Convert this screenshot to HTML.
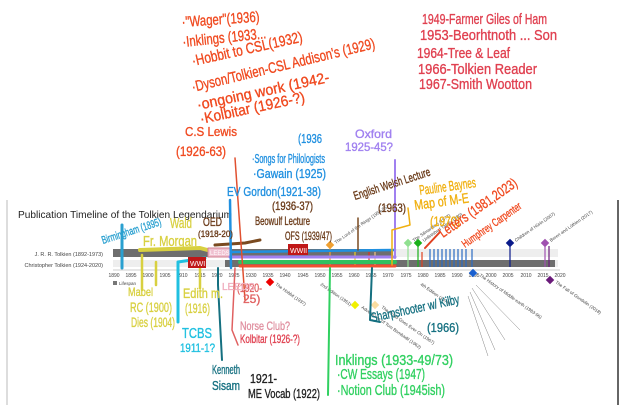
<!DOCTYPE html>
<html><head><meta charset="utf-8"><style>
html,body{margin:0;padding:0;background:#fff;}
svg{display:block;}
text{font-family:"Liberation Sans",sans-serif;}
.h text,text.h{font-family:"Liberation Sans Narrow","Liberation Sans",sans-serif;stroke-width:0.35;}
</style></head><body>
<svg width="624" height="405" viewBox="0 0 624 405" xmlns="http://www.w3.org/2000/svg">
<rect width="624" height="405" fill="#fff"/>
<line x1="7" y1="200" x2="7" y2="405" stroke="#bbb" stroke-width="1"/>
<line x1="618" y1="200" x2="618" y2="405" stroke="#333" stroke-width="1.5"/>
<text x="18" y="218" font-size="10.5" fill="#222" textLength="214" lengthAdjust="spacingAndGlyphs">Publication Timeline of the Tolkien Legendarium</text>
<text x="103" y="256" font-size="5.5" fill="#444" text-anchor="end">J. R. R. Tolkien (1892-1973)</text>
<text x="103" y="267" font-size="5.5" fill="#444" text-anchor="end">Christopher Tolkien (1924-2020)</text>
<rect x="113" y="249" width="445" height="8" fill="#eee"/>
<rect x="113" y="249" width="280" height="8" fill="#6e6e6e"/>
<rect x="113" y="260" width="445" height="7" fill="#eee"/>
<rect x="225" y="260" width="330" height="7" fill="#6e6e6e"/>
<line x1="113" y1="270" x2="560" y2="270" stroke="#999" stroke-width="0.6"/>
<g font-size="5" fill="#444" text-anchor="middle">
<text x="114" y="277">1890</text><text x="131" y="277">1895</text><text x="148" y="277">1900</text><text x="165" y="277">1905</text><text x="182" y="277">1910</text><text x="200" y="277">1915</text><text x="217" y="277">1920</text><text x="234" y="277">1925</text><text x="251" y="277">1930</text><text x="268" y="277">1935</text><text x="285" y="277">1940</text><text x="303" y="277">1945</text><text x="320" y="277">1950</text><text x="337" y="277">1955</text><text x="354" y="277">1960</text><text x="371" y="277">1965</text><text x="388" y="277">1970</text><text x="406" y="277">1975</text><text x="423" y="277">1980</text><text x="440" y="277">1985</text><text x="457" y="277">1990</text><text x="474" y="277">1995</text><text x="491" y="277">2000</text><text x="508" y="277">2005</text><text x="526" y="277">2010</text><text x="543" y="277">2015</text><text x="560" y="277">2020</text>
</g>
<rect x="113" y="281" width="4" height="4" fill="#777"/><text x="119" y="285" font-size="4.5" fill="#444">Lifespan</text>
<g stroke-width="1.2">
<line x1="430" y1="249" x2="430" y2="267" stroke="#2a6bc4"/><line x1="434" y1="249" x2="434" y2="267" stroke="#2a6bc4"/><line x1="438" y1="249" x2="438" y2="267" stroke="#2a6bc4"/><line x1="442" y1="249" x2="442" y2="267" stroke="#2a6bc4"/><line x1="446" y1="249" x2="446" y2="267" stroke="#2a6bc4"/><line x1="450" y1="249" x2="450" y2="267" stroke="#2a6bc4"/><line x1="454" y1="249" x2="454" y2="267" stroke="#2a6bc4"/><line x1="458" y1="249" x2="458" y2="267" stroke="#2a6bc4"/><line x1="462" y1="249" x2="462" y2="267" stroke="#2a6bc4"/><line x1="466" y1="249" x2="466" y2="267" stroke="#2a6bc4"/><line x1="472" y1="249" x2="472" y2="267" stroke="#2a6bc4"/>
<line x1="510" y1="246" x2="510" y2="267" stroke="#0a1a8a"/>
<line x1="545" y1="246" x2="545" y2="267" stroke="#a050b0"/><line x1="549" y1="246" x2="549" y2="267" stroke="#6a1a7a"/>
<line x1="408" y1="246" x2="408" y2="267" stroke="#90e090"/><line x1="418" y1="246" x2="418" y2="267" stroke="#1ab01a"/><line x1="422" y1="252" x2="422" y2="267" stroke="#e04020"/>
<line x1="330" y1="246" x2="330" y2="267" stroke="#f0a030"/><line x1="355" y1="252" x2="355" y2="267" stroke="#e8d020"/><line x1="369" y1="252" x2="369" y2="267" stroke="#e03020"/><line x1="375" y1="252" x2="375" y2="267" stroke="#f0c080"/>
</g>
<g>
<rect x="267" y="279" width="6" height="6" fill="#e00" transform="rotate(45 270 282)"/>
<rect x="327" y="242" width="6" height="6" fill="#f0a030" transform="rotate(45 330 245)"/>
<rect x="352" y="302" width="6" height="6" fill="#f0f000" transform="rotate(45 355 305)"/>
<rect x="372" y="302" width="6" height="6" fill="#fadca0" transform="rotate(45 375 305)"/>
<rect x="405" y="240" width="6" height="6" fill="#90e090" transform="rotate(45 408 243)"/>
<rect x="415" y="240" width="6" height="6" fill="#1ab01a" transform="rotate(45 418 243)"/>
<rect x="470" y="270" width="6" height="6" fill="#1a60d0" transform="rotate(45 473 273)"/>
<rect x="507" y="240" width="6" height="6" fill="#0a1a8a" transform="rotate(45 510 243)"/>
<rect x="542" y="240" width="6" height="6" fill="#a050b0" transform="rotate(45 545 243)"/>
<rect x="547" y="277" width="6" height="6" fill="#6a1a7a" transform="rotate(45 550 280)"/>
</g>
<g font-size="4.5" fill="#444">
<text transform="translate(275,285) rotate(35)">The Hobbit (1937)</text>
<text transform="translate(336,244) rotate(-35)">The Lord of the Rings (1954-55)</text>
<text transform="translate(414,242) rotate(-35)">The Silmarillion (1977)</text>
<text transform="translate(424,242) rotate(-35)">Unfinished Tales (1980)</text>
<text transform="translate(516,242) rotate(-35)">Children of Húrin (2007)</text>
<text transform="translate(551,242) rotate(-35)">Beren and Lúthien (2017)</text>
<text transform="translate(555,283) rotate(35)">The Fall of Gondolin (2018)</text>
<text transform="translate(479,276) rotate(35)">The History of Middle-earth (1983-96)</text>
<text transform="translate(320,285) rotate(35)">2nd Edition (1951)</text>
<text transform="translate(420,285) rotate(35)">4th Edition (1978)</text>
<text transform="translate(361,308) rotate(35)">Adventures of Tom Bombadil (1962)</text>
<text transform="translate(381,308) rotate(35)">The Road Goes Ever On (1967)</text>
</g>
<g stroke="#666" stroke-width="0.4">
<line x1="476" y1="285" x2="520" y2="330"/><line x1="472" y1="288" x2="505" y2="340"/><line x1="470" y1="292" x2="495" y2="350"/><line x1="468" y1="296" x2="488" y2="356"/>
</g>
<g fill="none" stroke-linecap="round" stroke-linejoin="round">
<path d="M122 225 L122 268" stroke="#2aa0d0" stroke-width="3"/>
<path d="M140 250 L200 248 L215 252" stroke="#d8d040" stroke-width="4"/>
<path d="M142 255 L142 290 M156 262 L156 285 M200 262 L200 288" stroke="#d8d040" stroke-width="2.5"/>
<path d="M178 262 L178 322 M178 262 L205 258" stroke="#20c0e0" stroke-width="3"/>
<path d="M215 245 L245 243 L260 240" stroke="#7a4a20" stroke-width="3"/>
<rect x="208" y="248" width="22" height="9" fill="#f0c0d0" stroke="#d08090"/>
<text x="210" y="255" font-size="6" fill="#fff" stroke="none">LEEDS</text>
<rect x="188" y="257" width="18" height="11" fill="#c01818" stroke="none"/>
<text x="190" y="266" font-size="7" fill="#fff" stroke="none">WWI</text>
<path d="M230 257 L395 257" stroke="#a080f0" stroke-width="3"/>
<path d="M240 262 L395 262" stroke="#30c060" stroke-width="4"/>
<path d="M240 266 L395 266" stroke="#f05030" stroke-width="3"/>
<path d="M232 252 L310 251 L395 250" stroke="#2090e0" stroke-width="2.5"/>
<path d="M218 268 L218 285 L222 360" stroke="#157080" stroke-width="2"/>
<path d="M230 200 L231 268" stroke="#2090e0" stroke-width="2.5"/>
<path d="M235 158 L245 300" stroke="#e05030" stroke-width="1.5"/>
<path d="M235 268 L232 330 L238 345" stroke="#e06060" stroke-width="1.5"/>
<path d="M395 160 L395 258" stroke="#a080f0" stroke-width="2"/>
<path d="M358 218 L358 250" stroke="#7a4a20" stroke-width="1.5"/>
<path d="M392 265 L392 230 L410 225 L408 208" stroke="#f0b010" stroke-width="1.5"/>
<path d="M330 268 L328 395" stroke="#30d060" stroke-width="2"/>
<path d="M372 268 L370 320 L380 322" stroke="#157080" stroke-width="2"/>
<path d="M440 232 L425 248" stroke="#e04020" stroke-width="2"/>
<rect x="288" y="244" width="20" height="11" fill="#c01818" stroke="none"/>
<text x="290" y="253" font-size="7" fill="#fff" stroke="none">WWII</text>
</g>
<g class="h" font-size="15" fill="#f04a20" stroke="#f04a20" lengthAdjust="spacingAndGlyphs">
<text x="182" y="27" textLength="78" transform="rotate(-4 182 27)" lengthAdjust="spacingAndGlyphs">·"Wager"(1936)</text>
<text x="183" y="47" textLength="84" transform="rotate(-6 183 47)" lengthAdjust="spacingAndGlyphs">·Inklings (1933...</text>
<text x="193" y="66" textLength="113" transform="rotate(-12.5 193 66)" lengthAdjust="spacingAndGlyphs">·Hobbit to CSL(1932)</text>
<text x="193" y="92" textLength="188" transform="rotate(-13.5 193 92)" lengthAdjust="spacingAndGlyphs">·Dyson/Tolkien-CSL Addison's (1929)</text>
<text x="198" y="110" textLength="135" transform="rotate(-12 198 110)" lengthAdjust="spacingAndGlyphs">·ongoing work (1942-</text>
<text x="201" y="124" textLength="107" transform="rotate(-12 201 124)" lengthAdjust="spacingAndGlyphs">·Kolbitar (1926-?)</text>
<text x="185" y="136" font-size="13" textLength="52" lengthAdjust="spacingAndGlyphs">C.S Lewis</text>
<text x="176" y="156" font-size="14" textLength="50" lengthAdjust="spacingAndGlyphs">(1926-63)</text>
</g>
<g class="h" font-size="15" fill="#e04050" stroke="#e04050">
<text x="422" y="24" textLength="125" lengthAdjust="spacingAndGlyphs">1949-Farmer Giles of Ham</text>
<text x="420" y="40" textLength="137" lengthAdjust="spacingAndGlyphs">1953-Beorhtnoth ... Son</text>
<text x="417" y="58" textLength="93" lengthAdjust="spacingAndGlyphs">1964-Tree &amp; Leaf</text>
<text x="418" y="74" textLength="119" lengthAdjust="spacingAndGlyphs">1966-Tolkien Reader</text>
<text x="419" y="89" textLength="113" lengthAdjust="spacingAndGlyphs">1967-Smith Wootton</text>
</g>
<g class="h" font-size="13" fill="#2090e0" stroke="#2090e0">
<text x="298" y="143" textLength="24" lengthAdjust="spacingAndGlyphs">(1936</text>
<text x="252" y="163" textLength="73" lengthAdjust="spacingAndGlyphs">·Songs for Philologists</text>
<text x="253" y="178" textLength="73" lengthAdjust="spacingAndGlyphs">·Gawain (1925)</text>
<text x="227" y="196" textLength="94" lengthAdjust="spacingAndGlyphs">EV Gordon(1921-38)</text>
<text x="103" y="244" font-size="11" textLength="62" lengthAdjust="spacingAndGlyphs" transform="rotate(-18 103 244)" fill="#2aa0d0" stroke="#2aa0d0">Birmingham (1895)</text>
</g>
<g class="h" font-size="12" fill="#a080f0" stroke="#a080f0"><text x="355" y="138" textLength="37" lengthAdjust="spacingAndGlyphs">Oxford</text><text x="345" y="151" textLength="48" lengthAdjust="spacingAndGlyphs">1925-45?</text></g>
<g class="h" font-size="12" fill="#6a3a18" stroke="#6a3a18">
<text x="355" y="200" textLength="80" lengthAdjust="spacingAndGlyphs" transform="rotate(-18 355 200)">English Welsh Lecture</text>
<text x="378" y="212" textLength="28" lengthAdjust="spacingAndGlyphs">(1963)</text>
<text x="272" y="210" textLength="41" lengthAdjust="spacingAndGlyphs">(1936-37)</text>
<text x="255" y="225" textLength="55" lengthAdjust="spacingAndGlyphs">Beowulf Lecture</text>
<text x="285" y="240" textLength="47" lengthAdjust="spacingAndGlyphs">OFS (1939/47)</text>
<text x="203" y="226" textLength="19" lengthAdjust="spacingAndGlyphs">OED</text>
<text x="198" y="237" font-size="9" textLength="35" lengthAdjust="spacingAndGlyphs">(1918-20)</text>
</g>
<g class="h" font-size="15" fill="#d8d040" stroke="#d8d040">
<text x="170" y="228" textLength="22" lengthAdjust="spacingAndGlyphs">Wald</text>
<text x="143" y="246" textLength="54" lengthAdjust="spacingAndGlyphs">Fr. Morgan</text>
<text x="128" y="296" font-size="12" textLength="25" lengthAdjust="spacingAndGlyphs">Mabel</text>
<text x="130" y="312" font-size="14" textLength="42" lengthAdjust="spacingAndGlyphs">RC (1900)</text>
<text x="131" y="327" font-size="14" textLength="44" lengthAdjust="spacingAndGlyphs">Dies (1904)</text>
<text x="183" y="298" font-size="14" textLength="40" lengthAdjust="spacingAndGlyphs">Edith m.</text>
<text x="185" y="313" font-size="14" textLength="25" lengthAdjust="spacingAndGlyphs">(1916)</text>
</g>
<g class="h" font-size="14" fill="#f0b010" stroke="#f0b010">
<text x="420" y="195" textLength="57" lengthAdjust="spacingAndGlyphs" transform="rotate(-8 420 195)">Pauline Baynes</text>
<text x="415" y="210" textLength="55" lengthAdjust="spacingAndGlyphs" transform="rotate(-8 415 210)">Map of M-E</text>
<text x="430" y="226" textLength="30" lengthAdjust="spacingAndGlyphs">(1970)</text>
</g>
<g class="h" font-size="14" fill="#f04a20" stroke="#f04a20">
<text x="443" y="238" textLength="92" lengthAdjust="spacingAndGlyphs" transform="rotate(-35 443 238)">Letters (1981,2023)</text>
<text x="465" y="248" font-size="11" textLength="70" lengthAdjust="spacingAndGlyphs" transform="rotate(-35 465 248)">Humphrey Carpenter</text>
</g>
<g class="h" font-size="15" fill="#20c0e0" stroke="#20c0e0"><text x="182" y="338" textLength="30" lengthAdjust="spacingAndGlyphs">TCBS</text><text x="180" y="352" font-size="12" textLength="35" lengthAdjust="spacingAndGlyphs">1911-1?</text></g>
<g class="h" font-size="13" fill="#157080" stroke="#157080">
<text x="212" y="374" textLength="28" lengthAdjust="spacingAndGlyphs">Kenneth</text><text x="212" y="390" textLength="28" lengthAdjust="spacingAndGlyphs">Sisam</text>
<text x="372" y="322" textLength="90" lengthAdjust="spacingAndGlyphs" transform="rotate(-12 372 322)">Sharpshooter w/ Kilby</text>
<text x="427" y="332" textLength="32" lengthAdjust="spacingAndGlyphs">(1966)</text>
</g>
<g class="h" font-size="13" fill="#222" stroke="#222"><text x="250" y="383" textLength="27" lengthAdjust="spacingAndGlyphs">1921-</text><text x="248" y="398" textLength="72" lengthAdjust="spacingAndGlyphs">ME Vocab (1922)</text></g>
<g class="h" font-size="12" fill="#e06060" stroke="#e06060">
<text x="237" y="292" textLength="25" lengthAdjust="spacingAndGlyphs">(1920-</text><text x="243" y="303">25)</text>
<text x="240" y="330" fill="#e090a0" stroke="#e090a0" textLength="50" lengthAdjust="spacingAndGlyphs">Norse Club?</text>
<text x="240" y="343" fill="#e04050" stroke="#e04050" textLength="60" lengthAdjust="spacingAndGlyphs">Kolbitar (1926-?)</text>
<text x="222" y="290" fill="#f0b0c0" stroke="#f0b0c0" font-size="10">LEEDS</text>
</g>
<g class="h" font-size="15" fill="#30d060" stroke="#30d060">
<text x="335" y="365" textLength="118" lengthAdjust="spacingAndGlyphs">Inklings (1933-49/73)</text>
<text x="337" y="379" textLength="88" lengthAdjust="spacingAndGlyphs">·CW Essays (1947)</text>
<text x="337" y="395" textLength="108" lengthAdjust="spacingAndGlyphs">·Notion Club (1945ish)</text>
</g>
</svg>
</body></html>
